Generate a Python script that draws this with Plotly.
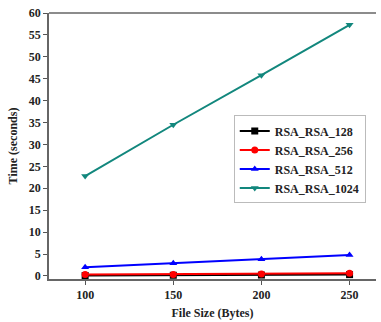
import plotly.graph_objects as go

file_size = [100, 150, 200, 250]
rsa_128 = [0.1, 0.15, 0.2, 0.3]
rsa_256 = [0.3, 0.35, 0.45, 0.6]
rsa_512 = [2.0, 2.9, 3.8, 4.8]
rsa_1024 = [22.8, 34.5, 45.8, 57.3]
y_ticks = list(range(0, 61, 5))
x_ticks = [100, 150, 200, 250]

font_family = "Liberation Serif, Times New Roman, serif"

series = [
    ("RSA_RSA_128", rsa_128, "black", "square"),
    ("RSA_RSA_256", rsa_256, "red", "circle"),
    ("RSA_RSA_512", rsa_512, "blue", "triangle-up"),
    ("RSA_RSA_1024", rsa_1024, "#12877d", "triangle-down"),
]

fig = go.Figure()
for name, vals, color, sym in series:
    fig.add_trace(go.Scatter(
        x=file_size, y=vals, name="<b>" + name + "</b>", mode="lines+markers",
        line=dict(color=color, width=2),
        marker=dict(symbol=sym, size=7, color=color),
    ))

fig.update_layout(
    width=381, height=322,
    margin=dict(l=49, r=5, t=13, b=43),
    paper_bgcolor="white", plot_bgcolor="white",
    font=dict(family=font_family, size=12, color="#222"),
    legend=dict(
        x=0.565, y=0.615, xanchor="left", yanchor="top",
        bgcolor="white", bordercolor="#bbbbbb", borderwidth=1,
        font=dict(family=font_family, size=12, color="#222"),
        tracegroupgap=0,
    ),
    showlegend=True,
)
fig.update_xaxes(
    range=[79.5, 265], tickvals=x_ticks, ticktext=["<b>%d</b>" % v for v in x_ticks],
    ticks="outside", ticklen=4, tickcolor="#555",
    showline=True, linecolor="#666", linewidth=1.5, mirror=False,
    showgrid=False, zeroline=False,
    tickfont=dict(family=font_family, size=12),
    title=dict(text="<b>File Size (Bytes)</b>", font=dict(family=font_family, size=12), standoff=7),
)
fig.update_yaxes(
    range=[-0.7, 60], tickvals=y_ticks, ticktext=["<b>%d</b>" % v for v in y_ticks],
    ticks="outside", ticklen=4, tickcolor="#555",
    showline=True, linecolor="#666", linewidth=1.5, mirror=False,
    showgrid=False, zeroline=False,
    tickfont=dict(family=font_family, size=12),
    title=dict(text="<b>Time (seconds)</b>", font=dict(family=font_family, size=12), standoff=9),
)
# top border line
fig.add_shape(type="line", xref="paper", yref="paper", x0=0, x1=1, y0=1, y1=1,
              line=dict(color="#666", width=1.5))

fig.write_html("out.html", config={"displayModeBar": False},
               post_script="document.body.style.margin='0';document.body.style.padding='0';")
